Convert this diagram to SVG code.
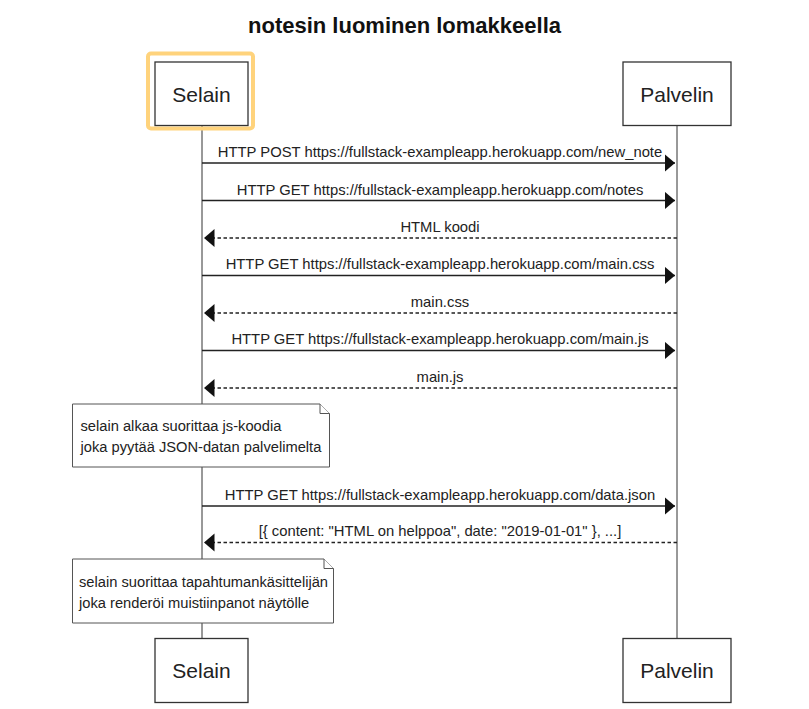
<svg xmlns="http://www.w3.org/2000/svg" width="809" height="709" viewBox="0 0 809 709">
<style>
  .actor rect { fill: #ffffff; stroke: #333333; stroke-width: 1.3; }
  .actor text { font-family: "Liberation Sans", Arial, sans-serif; font-size: 21px; fill: #222222; text-anchor: middle; }
  .life { stroke: #333333; stroke-width: 1; fill: none; }
  .msg { stroke: #222222; stroke-width: 1.3; fill: none; }
  .dash { stroke-dasharray: 3.5 2.5; }
  .lbl { font-family: "Liberation Sans", Arial, sans-serif; font-size: 14.8px; fill: #222222; text-anchor: middle; }
  .note path { fill: #ffffff; stroke: #555555; stroke-width: 1; }
  .note text { font-family: "Liberation Sans", Arial, sans-serif; font-size: 14.7px; fill: #222222; }
  .title { font-family: "Liberation Sans", Arial, sans-serif; font-size: 22px; font-weight: bold; fill: #111111; text-anchor: middle; }
</style>
<defs>
  <marker id="arr" markerUnits="userSpaceOnUse" markerWidth="12" markerHeight="20" refX="10.5" refY="9" orient="auto-start-reverse" viewBox="0 0 12 20">
    <path d="M0,0 L10.5,9 L0,18 Z" fill="#111111"/>
  </marker>
</defs>
<rect width="809" height="709" fill="#ffffff"/>
<text class="title" x="404.5" y="33">notesin luominen lomakkeella</text>

<g id="lifelines">
  <line class="life" x1="202" y1="126" x2="202" y2="638"/>
  <line class="life" x1="677" y1="126" x2="677" y2="638"/>
</g>

<g id="highlight">
  <rect x="148" y="53.5" width="105" height="75" rx="3" fill="none" stroke="#ffd37c" stroke-width="4"/>
</g>

<g id="actor-selain-top" class="actor">
  <rect x="155" y="62" width="93" height="63.5"/>
  <text x="201.5" y="101.5">Selain</text>
</g>
<g id="actor-palvelin-top" class="actor">
  <rect x="623" y="62" width="108" height="63.5"/>
  <text x="677" y="101.5">Palvelin</text>
</g>

<g id="connectors">
  <line class="msg" x1="202" y1="163" x2="675" y2="163" marker-end="url(#arr)"/>
  <text class="lbl" x="440" y="156.5">HTTP POST https://fullstack-exampleapp.herokuapp.com/new_note</text>

  <line class="msg" x1="202" y1="200.5" x2="675" y2="200.5" marker-end="url(#arr)"/>
  <text class="lbl" x="440" y="194.5">HTTP GET https://fullstack-exampleapp.herokuapp.com/notes</text>

  <line class="msg dash" x1="677" y1="238" x2="204" y2="238" marker-end="url(#arr)"/>
  <text class="lbl" x="440" y="231.5">HTML koodi</text>

  <line class="msg" x1="202" y1="275.5" x2="675" y2="275.5" marker-end="url(#arr)"/>
  <text class="lbl" x="440" y="269">HTTP GET https://fullstack-exampleapp.herokuapp.com/main.css</text>

  <line class="msg dash" x1="677" y1="313" x2="204" y2="313" marker-end="url(#arr)"/>
  <text class="lbl" x="440" y="306.5">main.css</text>

  <line class="msg" x1="202" y1="350.5" x2="675" y2="350.5" marker-end="url(#arr)"/>
  <text class="lbl" x="440" y="344">HTTP GET https://fullstack-exampleapp.herokuapp.com/main.js</text>

  <line class="msg dash" x1="677" y1="388" x2="204" y2="388" marker-end="url(#arr)"/>
  <text class="lbl" x="440" y="381.5">main.js</text>

  <line class="msg" x1="202" y1="506" x2="675" y2="506" marker-end="url(#arr)"/>
  <text class="lbl" x="440" y="499.5">HTTP GET https://fullstack-exampleapp.herokuapp.com/data.json</text>

  <line class="msg dash" x1="677" y1="542.5" x2="204" y2="542.5" marker-end="url(#arr)"/>
  <text class="lbl" x="440" y="536">[{ content: "HTML on helppoa", date: "2019-01-01" }, ...]</text>
</g>

<g id="note-1" class="note">
  <path d="M72.5,404 H320 L329.5,413.5 V467 H72.5 Z"/>
  <path d="M320,404 V413.5 H329.5" fill="none"/>
  <text x="80.5" y="431">selain alkaa suorittaa js-koodia</text>
  <text x="80.5" y="451.5">joka pyytää JSON-datan palvelimelta</text>
</g>

<g id="note-2" class="note">
  <path d="M72.5,559 H324 L333.5,568.5 V623 H72.5 Z"/>
  <path d="M324,559 V568.5 H333.5" fill="none"/>
  <text x="79" y="587">selain suorittaa tapahtumankäsittelijän</text>
  <text x="79" y="607.5">joka renderöi muistiinpanot näytölle</text>
</g>

<g id="actor-selain-bottom" class="actor">
  <rect x="155" y="638.5" width="93" height="64"/>
  <text x="201.5" y="678">Selain</text>
</g>
<g id="actor-palvelin-bottom" class="actor">
  <rect x="623" y="638.5" width="108" height="64"/>
  <text x="677" y="678">Palvelin</text>
</g>
</svg>
